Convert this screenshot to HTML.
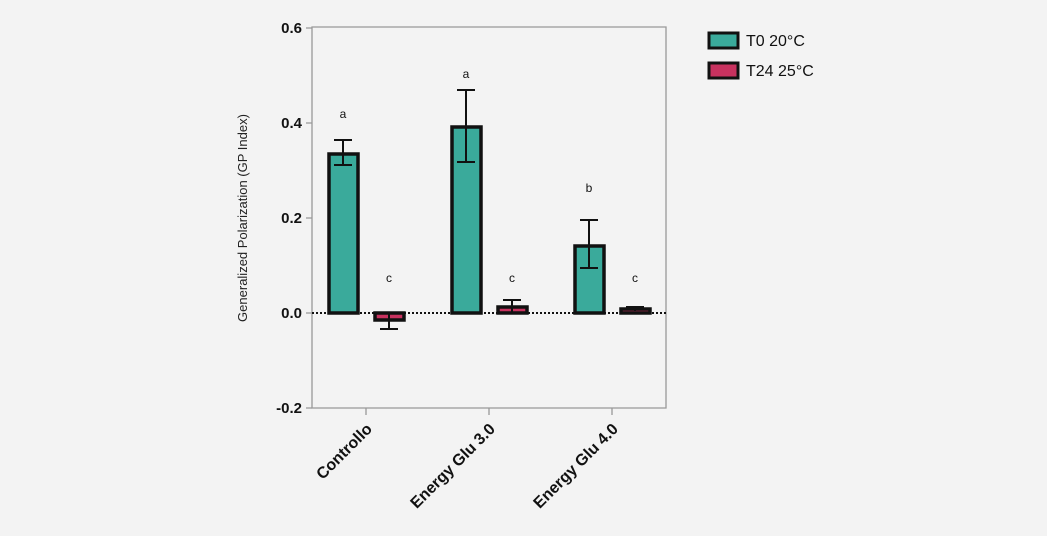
<!DOCTYPE html>
<html><head><style>body{margin:0;background:#f3f3f3}svg{display:block}</style></head><body>
<svg width="1047" height="536" xmlns="http://www.w3.org/2000/svg" font-family="Liberation Sans, sans-serif">
<rect width="1047" height="536" fill="#f3f3f3"/>
<g stroke="#999" stroke-width="1.3" fill="none">
<path d="M312,27 H666 V408 H312 Z"/>
<path d="M306,28 H312 M306,123 H312 M306,218 H312 M306,313 H312 M306,408 H312"/>
<path d="M366,408 V415 M489,408 V415 M612,408 V415"/>
</g>
<g font-weight="bold" font-size="15" text-anchor="end" fill="#111">
<text x="302" y="33">0.6</text><text x="302" y="128">0.4</text><text x="302" y="223">0.2</text><text x="302" y="318">0.0</text><text x="302" y="413">-0.2</text>
</g>
<text transform="translate(247,218) rotate(-90)" text-anchor="middle" font-size="13" fill="#222">Generalized Polarization (GP Index)</text>
<g fill="#3aaa9b" stroke="#111" stroke-width="3.5">
<rect x="329" y="154" width="29" height="159"/>
<rect x="452" y="127" width="29" height="186"/>
<rect x="575" y="246" width="29" height="67"/>
</g>
<g fill="#c8325f" stroke="#111" stroke-width="3.5">
<rect x="375" y="313" width="29" height="7"/>
<rect x="498" y="307" width="29" height="6"/>
<rect x="621" y="309" width="29" height="4"/>
</g>
<line x1="312" y1="313" x2="666" y2="313" stroke="#111" stroke-width="2" stroke-dasharray="2,2"/>
<g stroke="#111" stroke-width="2" fill="none">
<path d="M343,140 V165 M334,140 H352 M334,165 H352"/>
<path d="M389,313 V329 M380,329 H398"/>
<path d="M466,90 V162 M457,90 H475 M457,162 H475"/>
<path d="M512,300 V313 M503,300 H521"/>
<path d="M589,220 V268 M580,220 H598 M580,268 H598"/>
<path d="M635,307 V311 M626,307 H644"/>
</g>
<g font-size="12" text-anchor="middle" fill="#111">
<text x="343" y="118">a</text><text x="389" y="282">c</text>
<text x="466" y="78">a</text><text x="512" y="282">c</text>
<text x="589" y="192">b</text><text x="635" y="282">c</text>
</g>
<g font-weight="bold" font-size="16" text-anchor="end" fill="#111">
<text transform="translate(373,430) rotate(-45)">Controllo</text>
<text transform="translate(496,430) rotate(-45)">Energy Glu 3.0</text>
<text transform="translate(619,430) rotate(-45)">Energy Glu 4.0</text>
</g>
<rect x="709" y="33" width="29" height="15" fill="#3aaa9b" stroke="#111" stroke-width="3"/>
<rect x="709" y="63" width="29" height="15" fill="#c8325f" stroke="#111" stroke-width="3"/>
<g font-size="16" fill="#111">
<text x="746" y="46">T0 20°C</text>
<text x="746" y="76">T24 25°C</text>
</g>
</svg>
</body></html>
